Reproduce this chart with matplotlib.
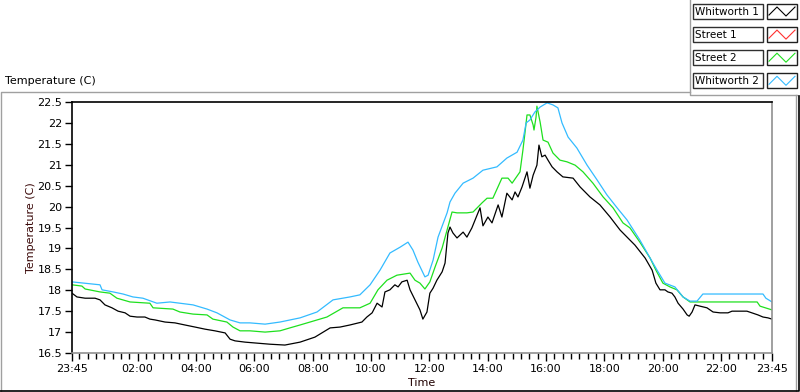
import numpy as np
import matplotlib
matplotlib.use("Agg")
import matplotlib.pyplot as plt
from matplotlib.lines import Line2D
from matplotlib.patches import Rectangle

# hours elapsed since the 23:45 start, temperature in C
w1_hours = [0.00, 0.17, 0.45, 0.79, 0.96, 1.13, 1.37, 1.58, 1.82, 1.99, 2.23, 2.50, 2.67, 2.85,
            3.19, 3.53, 3.87, 4.22, 4.56, 4.90, 5.25, 5.42, 5.59, 5.93, 6.27, 6.79, 7.30, 7.82,
            8.33, 8.85, 9.19, 9.53, 9.94, 10.11, 10.29, 10.46, 10.63, 10.73, 10.90, 11.07, 11.18,
            11.31, 11.49, 11.59, 11.76, 11.93, 12.03, 12.17, 12.27, 12.38, 12.51, 12.69, 12.79,
            12.89, 12.96, 13.06, 13.20, 13.41, 13.54, 13.71, 13.89, 13.99, 14.09, 14.26, 14.40,
            14.61, 14.74, 14.91, 15.09, 15.19, 15.29, 15.43, 15.60, 15.70, 15.81, 15.94, 16.01,
            16.11, 16.22, 16.32, 16.46, 16.63, 16.83, 17.18, 17.42, 17.76, 18.10, 18.45, 18.79,
            19.03, 19.30, 19.65, 19.89, 20.02, 20.16, 20.33, 20.43, 20.57, 20.67, 20.78, 20.95,
            21.09, 21.16, 21.26, 21.36, 21.53, 21.77, 21.98, 22.22, 22.49, 22.63, 22.80, 23.14,
            23.31, 23.52, 23.69, 23.86, 24.00]
w1_temp = [17.93, 17.84, 17.81, 17.81, 17.77, 17.65, 17.58, 17.50, 17.46, 17.38, 17.36, 17.36,
           17.31, 17.29, 17.24, 17.22, 17.17, 17.12, 17.07, 17.03, 16.98, 16.83, 16.79, 16.76,
           16.74, 16.71, 16.69, 16.76, 16.88, 17.10, 17.12, 17.17, 17.24, 17.36, 17.46, 17.69,
           17.60, 17.96, 18.01, 18.13, 18.08, 18.20, 18.24, 18.01, 17.77, 17.53, 17.31, 17.48,
           17.93, 18.05, 18.24, 18.44, 18.65, 19.37, 19.51, 19.37, 19.25, 19.39, 19.27, 19.49,
           19.80, 19.97, 19.54, 19.75, 19.61, 20.04, 19.75, 20.32, 20.16, 20.35, 20.23, 20.47,
           20.83, 20.44, 20.75, 20.99, 21.47, 21.19, 21.23, 21.11, 20.95, 20.83, 20.71, 20.68,
           20.47, 20.23, 20.04, 19.75, 19.44, 19.27, 19.08, 18.77, 18.48, 18.17, 18.01, 18.01,
           17.96, 17.93, 17.84, 17.69, 17.55, 17.41, 17.38, 17.48, 17.65, 17.62, 17.58, 17.48,
           17.46, 17.46, 17.50, 17.50, 17.50, 17.46, 17.41, 17.36, 17.34, 17.31]

s2_hours = [0.00, 0.34, 0.45, 0.96, 1.30, 1.54, 1.99, 2.67, 2.78, 3.46, 3.70, 4.15, 4.63, 4.83,
            5.31, 5.52, 5.76, 6.10, 6.62, 7.13, 7.47, 7.82, 8.16, 8.74, 9.29, 9.87, 10.22, 10.49,
            10.80, 11.14, 11.59, 11.76, 11.93, 12.10, 12.27, 12.45, 12.69, 12.86, 13.03, 13.20,
            13.54, 13.75, 14.06, 14.23, 14.43, 14.74, 14.95, 15.09, 15.36, 15.46, 15.53, 15.60,
            15.70, 15.81, 15.84, 15.91, 15.94, 16.05, 16.15, 16.32, 16.49, 16.73, 16.97, 17.25,
            17.52, 17.86, 18.21, 18.55, 18.89, 19.13, 19.47, 19.82, 20.02, 20.26, 20.50, 20.74,
            20.95, 21.19, 21.43, 23.49, 23.59, 24.00]
s2_temp = [18.13, 18.10, 18.03, 17.96, 17.93, 17.81, 17.72, 17.69, 17.58, 17.55, 17.48, 17.43,
           17.41, 17.31, 17.24, 17.12, 17.03, 17.03, 17.00, 17.03, 17.10, 17.17, 17.24, 17.36,
           17.58, 17.58, 17.69, 18.01, 18.24, 18.36, 18.41, 18.24, 18.17, 18.03, 18.20, 18.56,
           19.01, 19.44, 19.87, 19.85, 19.85, 19.87, 20.09, 20.20, 20.20, 20.68, 20.68, 20.56,
           20.83, 21.35, 21.76, 22.19, 22.19, 21.95, 21.83, 22.14, 22.40, 22.02, 21.59, 21.54,
           21.28, 21.11, 21.07, 20.99, 20.83, 20.56, 20.23, 19.97, 19.61, 19.49, 19.15, 18.77,
           18.48, 18.17, 18.08, 18.01, 17.84, 17.72, 17.72, 17.72, 17.62, 17.53]

w2_hours = [0.00, 0.96, 1.03, 1.41, 1.75, 2.09, 2.43, 2.91, 3.36, 3.70, 4.15, 4.63, 4.97, 5.42,
            5.76, 6.10, 6.62, 7.13, 7.82, 8.40, 8.95, 9.53, 9.87, 10.22, 10.56, 10.90, 11.25,
            11.52, 11.69, 11.86, 12.10, 12.21, 12.38, 12.55, 12.86, 12.96, 13.13, 13.41, 13.75,
            14.09, 14.57, 14.91, 15.26, 15.46, 15.57, 15.70, 15.87, 16.05, 16.29, 16.49, 16.66,
            16.80, 17.01, 17.31, 17.66, 18.00, 18.34, 18.69, 19.03, 19.47, 19.82, 20.06, 20.33,
            20.67, 20.95, 21.19, 21.43, 21.63, 23.69, 23.79, 24.00]
w2_temp = [18.20, 18.13, 18.01, 17.96, 17.91, 17.84, 17.81, 17.69, 17.72, 17.69, 17.65, 17.55,
           17.46, 17.29, 17.22, 17.22, 17.19, 17.24, 17.34, 17.48, 17.77, 17.84, 17.89, 18.13,
           18.48, 18.89, 19.03, 19.15, 18.96, 18.67, 18.32, 18.36, 18.72, 19.27, 19.85, 20.11,
           20.32, 20.56, 20.68, 20.87, 20.95, 21.16, 21.30, 21.59, 22.00, 22.07, 22.26, 22.38,
           22.48, 22.43, 22.36, 22.00, 21.66, 21.40, 20.99, 20.64, 20.28, 19.97, 19.68, 19.20,
           18.77, 18.48, 18.17, 18.08, 17.84, 17.74, 17.74, 17.91, 17.91, 17.81, 17.72]

legend_names = ["Whitworth 1", "Street 1", "Street 2", "Whitworth 2"]
legend_colors = ["#000000", "#ff3030", "#1ee01e", "#33bbff"]

W, H = 800, 392


def px(x, y):
    # pixel position -> figure fraction
    return x / W, 1 - y / H


fig = plt.figure(figsize=(8, 3.92), dpi=100)
fig.patch.set_facecolor("white")

x0, y0 = px(72, 353)
x1, y1 = px(772, 102)
ax = fig.add_axes([x0, y0, x1 - x0, y1 - y0])

ax.plot(w1_hours, w1_temp, color=legend_colors[0], lw=0.9)
ax.plot(s2_hours, s2_temp, color=legend_colors[2], lw=0.9)
ax.plot(w2_hours, w2_temp, color=legend_colors[3], lw=0.9)

ax.set_xlim(0, 24)
ax.set_ylim(16.5, 22.5)

# time axis: majors on even clock hours, 6 minors between
majors = [0] + [2.25 + 2 * k for k in range(11)] + [24]
labels = ["23:45"] + ["%02d:00" % ((2 + 2 * k) % 24) for k in range(11)] + ["23:45"]
minors = [m for m in np.arange(2.25 - 8 * 2 / 7, 24.01, 2 / 7)
          if 0 < m < 24 and min(abs(m - j) for j in majors) > 0.05]
ax.set_xticks(majors)
ax.set_xticklabels(labels)
ax.set_xticks(minors, minor=True)
ax.set_yticks(np.arange(16.5, 22.51, 0.5))
ax.set_yticklabels(["%g" % v for v in np.arange(16.5, 22.51, 0.5)])

ax.tick_params(axis="x", which="major", direction="out", length=6, width=1, labelsize=8, pad=2)
ax.tick_params(axis="x", which="minor", direction="out", length=4, width=1)
ax.tick_params(axis="y", direction="out", length=5, width=1, labelsize=8, pad=2)

ax.spines["top"].set_color("black")
ax.spines["left"].set_color("black")
ax.spines["right"].set_color("#909090")
ax.spines["bottom"].set_color("#909090")
for s in ax.spines.values():
    s.set_linewidth(1.2)

ax.set_xlabel("Time", fontsize=8, labelpad=3, color="#200000")
ax.set_ylabel("Temperature (C)", fontsize=8, labelpad=1, color="#3a0808")

fig.text(*px(5, 81), "Temperature (C)", fontsize=8, va="center", ha="left")

# outer panel frame
def fline(xs, ys, color, lw=1.0):
    pts = [px(x, y) for x, y in zip(xs, ys)]
    fig.add_artist(Line2D([p[0] for p in pts], [p[1] for p in pts],
                          transform=fig.transFigure, color=color, lw=lw))

fline([1, 1, 690], [392, 92, 92], "#a0a0a0")
fline([690, 690, 797], [0, 95, 95], "#a0a0a0")
fline([796, 796], [95, 392], "#a0a0a0")
fline([799, 799, 0], [96, 391, 391], "black", 1.2)

# legend boxes
for i, (name, col) in enumerate(zip(legend_names, legend_colors)):
    top = 4 + i * 23.1
    bx, by = px(693, top + 15)
    fig.add_artist(Rectangle((bx, by), 70 / W, 15 / H, transform=fig.transFigure,
                             facecolor="white", edgecolor="#303030", lw=1))
    fig.text(*px(695, top + 8), name, fontsize=7.5, va="center", ha="left")
    sx, sy = px(767, top + 15)
    fig.add_artist(Rectangle((sx, sy), 30 / W, 15 / H, transform=fig.transFigure,
                             facecolor="white", edgecolor="#202020", lw=1))
    zx = [769, 777, 786, 795]
    zy = [top + 11, top + 3, top + 12, top + 3]
    fline(zx, zy, col, 0.8)

fig.savefig("out.png", dpi=100)
